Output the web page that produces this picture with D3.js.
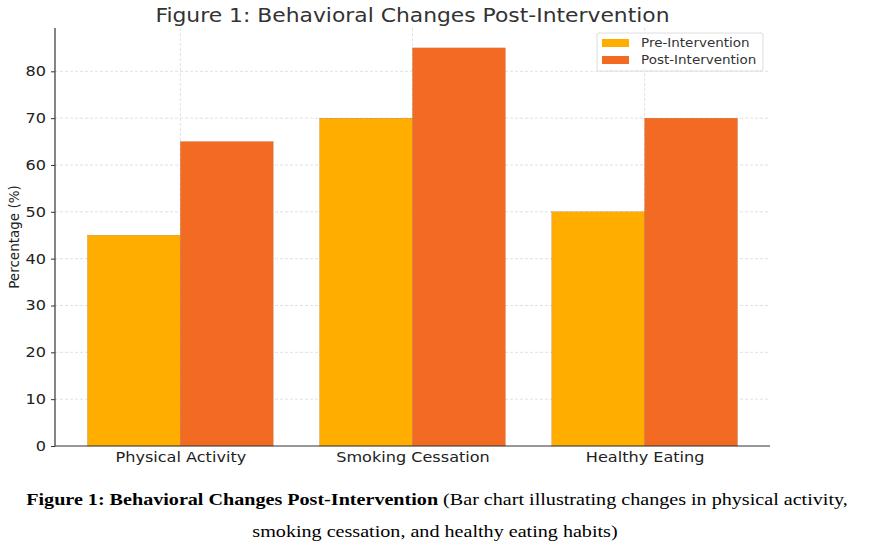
<!DOCTYPE html>
<html>
<head>
<meta charset="utf-8">
<script src="https://cdn.jsdelivr.net/npm/d3@7"></script>
<style>
  body { margin: 0; background: #fff; }
  svg { display: block; }
</style>
</head>
<body>
<svg id="chart" width="877" height="545"></svg>
<script>
const categories = ["Physical Activity", "Smoking Cessation", "Healthy Eating"];
const preValues = [45, 70, 50];
const postValues = [65, 85, 70];
const seriesNames = ["Pre-Intervention", "Post-Intervention"];
const yTicks = [0, 10, 20, 30, 40, 50, 60, 70, 80];

const colors = ["#ffae00", "#f36a22"];
const svg = d3.select("#chart");
const plotLeft = 55, plotRight = 770, plotTop = 28, plotBottom = 446;
const barW = 0.4;
const stretch = 1.15; // the picture is a bit wider than tall

const x = d3.scaleLinear().domain([-0.54, 2.54]).range([plotLeft, plotRight]);
const y = d3.scaleLinear().domain([0, 89.25]).range([plotBottom, plotTop]);

// widen text horizontally around its anchor x
function widen(sel, k, cx) {
  sel.attr("transform", `translate(${cx},0) scale(${k},1) translate(${-cx},0)`);
}

// grid
svg.append("g").selectAll("line").data(yTicks.slice(1)).enter().append("line")
  .attr("x1", plotLeft).attr("x2", plotRight)
  .attr("y1", d => y(d)).attr("y2", d => y(d))
  .attr("stroke", "#d9d9d9").attr("stroke-dasharray", "3,2").attr("stroke-width", 0.8);
svg.append("g").selectAll("line").data(categories).enter().append("line")
  .attr("x1", (d, i) => x(i)).attr("x2", (d, i) => x(i))
  .attr("y1", plotTop).attr("y2", plotBottom)
  .attr("stroke", "#d9d9d9").attr("stroke-dasharray", "3,2").attr("stroke-width", 0.8);

// bars
const series = [preValues, postValues];
series.forEach((vals, s) => {
  svg.append("g").selectAll("rect").data(vals).enter().append("rect")
    .attr("x", (d, i) => x(i + (s === 0 ? -barW : 0)))
    .attr("width", x(barW) - x(0))
    .attr("y", d => y(d))
    .attr("height", d => y(0) - y(d))
    .attr("fill", colors[s])
    .attr("stroke", "#b07040").attr("stroke-width", 0.3);
});

// axes
const font = "DejaVu Sans, sans-serif";
const yAxis = svg.append("g").attr("transform", `translate(${plotLeft},0)`)
  .call(d3.axisLeft(y).tickValues(yTicks).tickSize(4).tickPadding(5));
const xAxis = svg.append("g").attr("transform", `translate(0,${plotBottom})`)
  .call(d3.axisBottom(x).tickValues([0, 1, 2]).tickFormat(i => categories[i]).tickSize(0).tickPadding(6));
[yAxis, xAxis].forEach(a => {
  a.select(".domain").attr("stroke", "#333").attr("stroke-width", 1.2);
  a.selectAll(".tick line").attr("stroke", "#333");
  a.selectAll("text").attr("font-family", font).attr("font-size", 14).attr("fill", "#222");
});
yAxis.select(".domain").attr("d", `M0,${plotTop}V${plotBottom}`);
xAxis.select(".domain").attr("d", `M${plotLeft},0H${plotRight}`);
xAxis.selectAll(".tick text").call(widen, stretch, 0);
yAxis.selectAll(".tick text").call(widen, stretch, -9);

svg.append("text")
  .attr("transform", `translate(19,${(plotTop + plotBottom) / 2}) rotate(-90)`)
  .attr("text-anchor", "middle").attr("font-family", font).attr("font-size", 13.5)
  .attr("fill", "#222").text("Percentage (%)");

const titleX = (plotLeft + plotRight) / 2;
svg.append("text").attr("x", titleX).attr("y", 22)
  .attr("text-anchor", "middle").attr("font-family", font).attr("font-size", 19)
  .attr("fill", "#333").text("Figure 1: Behavioral Changes Post-Intervention")
  .call(widen, stretch, titleX);

// legend
const lg = svg.append("g").attr("transform", "translate(597,33)");
lg.append("rect").attr("width", 166).attr("height", 38).attr("rx", 2)
  .attr("fill", "#fff").attr("fill-opacity", 0.85).attr("stroke", "#ddd");
seriesNames.forEach((n, i) => {
  lg.append("rect").attr("x", 5).attr("y", 6 + i * 17).attr("width", 27).attr("height", 8).attr("fill", colors[i]);
  lg.append("text").attr("x", 44).attr("y", 14 + i * 17).attr("font-family", font)
    .attr("font-size", 12.5).attr("fill", "#333").text(n)
    .call(widen, 1.08, 44);
});

// caption
const serif = "Liberation Serif, Times New Roman, serif";
const capX = 437;
const cap = svg.append("text").attr("x", capX).attr("y", 505).attr("text-anchor", "middle")
  .attr("font-family", serif).attr("font-size", 17.5).attr("fill", "#000")
  .call(widen, stretch, capX);
cap.append("tspan").attr("font-weight", "bold").text("Figure 1: Behavioral Changes Post-Intervention");
cap.append("tspan").text(" (Bar chart illustrating changes in physical activity,");
svg.append("text").attr("x", capX - 2).attr("y", 537).attr("text-anchor", "middle")
  .attr("font-family", serif).attr("font-size", 17.5).attr("fill", "#000")
  .text("smoking cessation, and healthy eating habits)")
  .call(widen, stretch, capX - 2);
</script>
</body>
</html>
